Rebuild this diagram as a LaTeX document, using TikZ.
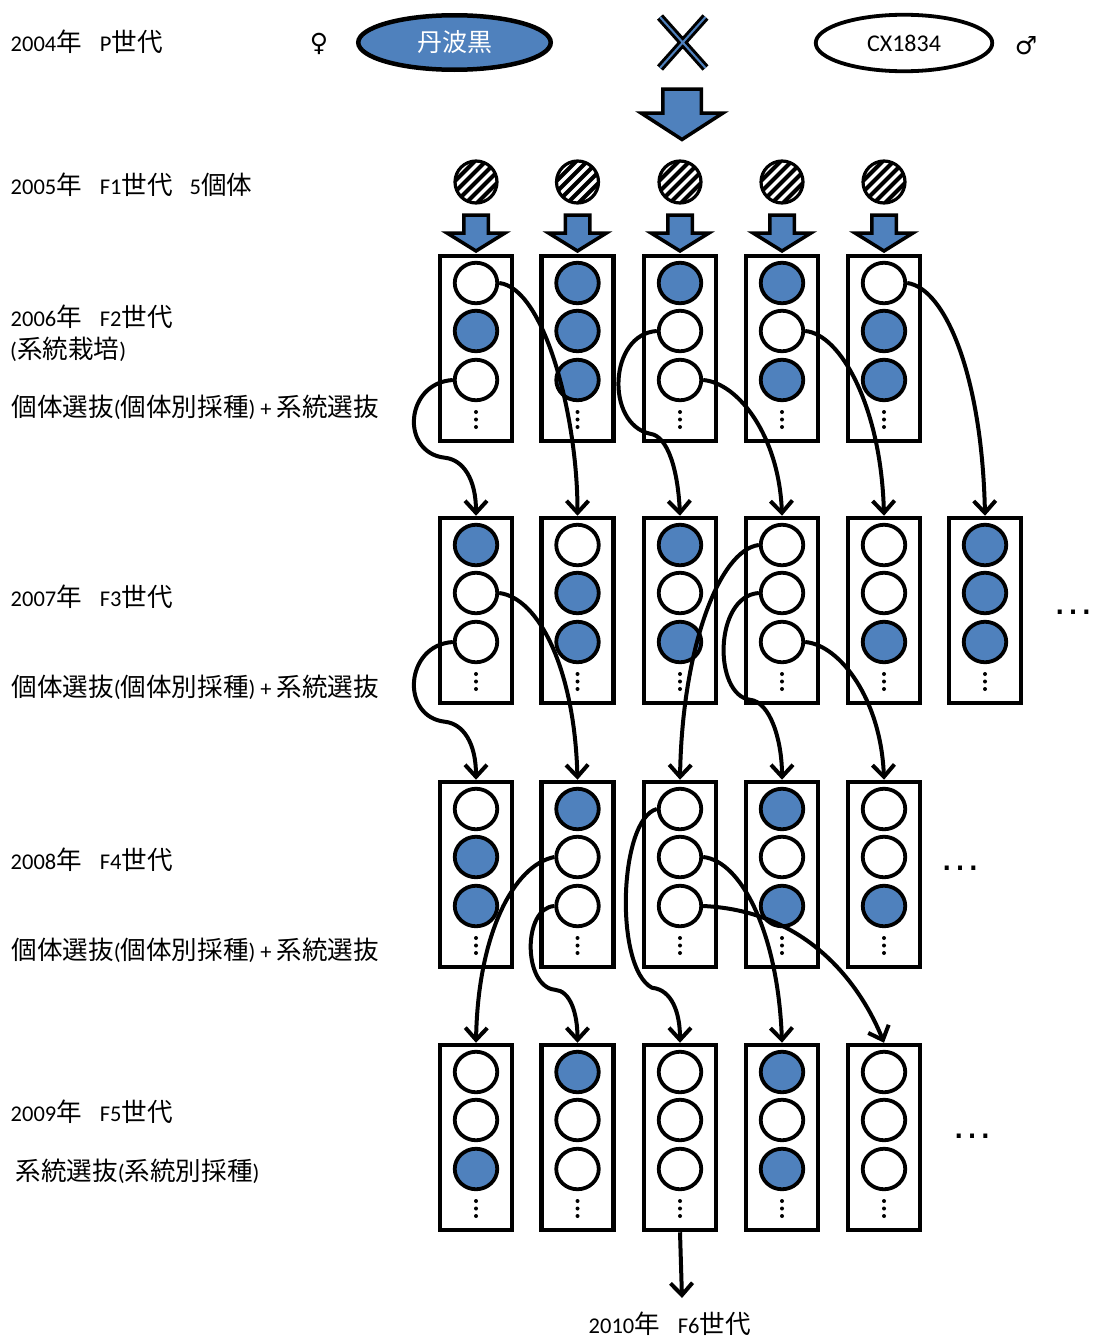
\documentclass[tikz,border=0pt]{standalone}
\usepackage{fontspec}
\setmainfont[Numbers=Lining]{Carlito}
\newfontfamily\jp[Scale=1.136]{Noto Sans CJK JP}
\newfontfamily\symf{DejaVu Sans}
\newfontfamily\arialf{Liberation Sans}
\usetikzlibrary{shapes.geometric,arrows.meta,calc}
\definecolor{pblue}{RGB}{79,129,189}
\begin{document}
\begin{tikzpicture}[x=1pt,y=-1pt,
  lbl/.style={anchor=base west, inner sep=0, font=\fontsize{22.5}{26}\selectfont},
  lbox/.style={draw, line width=4.5, minimum width=72, minimum height=185, inner sep=0, fill=white},
  cir/.style={ellipse, draw, line width=3.8, minimum width=42.5, minimum height=40.5, inner sep=0},
  conn/.style={line width=4, -{Straight Barb[length=12pt,width=22pt]}},
  blk/.style={fill=pblue, draw=black, line width=3.5, line join=miter},
  more/.style={font=\arialf\fontsize{42}{46}\selectfont, anchor=base, inner sep=0},
  hatch/.style={circle, draw, line width=3.2, minimum size=42, inner sep=0, fill=white,
    path picture={\foreach \k in {-55,-44,...,55}{\draw[line width=4] ($(path picture bounding box.center)+(\k-30,30)$) -- ++(60,-60);}}}
]
\useasboundingbox (0,0) rectangle (1096,1341);

% left labels
\node[lbl] (t2004) at (10.5,51.5) {2004{\jp 年}\hspace{18pt}P{\jp 世代}};
\node[lbl] (t2005) at (10.5,194.5) {2005{\jp 年}\hspace{18pt}F1{\jp 世代}\hspace{17pt}5{\jp 個体}};
\node[lbl] (t2006) at (10.5,326.5) {2006{\jp 年}\hspace{18pt}F2{\jp 世代}};
\node[lbl] (t2006b) at (10,358.5) {({\jp 系統栽培})};
\node[lbl] (s2) at (11.5,416.5) {{\jp 個体選抜}({\jp 個体別採種}) + {\jp 系統選抜}};
\node[lbl] (t2007) at (10.5,606.5) {2007{\jp 年}\hspace{18pt}F3{\jp 世代}};
\node[lbl] (s3) at (11.5,696.5) {{\jp 個体選抜}({\jp 個体別採種}) + {\jp 系統選抜}};
\node[lbl] (t2008) at (10.5,869.5) {2008{\jp 年}\hspace{18pt}F4{\jp 世代}};
\node[lbl] (s4) at (11.5,959.5) {{\jp 個体選抜}({\jp 個体別採種}) + {\jp 系統選抜}};
\node[lbl] (t2009) at (10.5,1121.5) {2009{\jp 年}\hspace{18pt}F5{\jp 世代}};
\node[lbl] (s5) at (15.5,1180.5) {{\jp 系統選抜}({\jp 系統別採種})};

% parents
\node[font=\symf\fontsize{25}{28}\selectfont, inner sep=0] (fem) at (319,44) {♀};
\node[ellipse, draw, line width=4.5, fill=pblue, minimum width=192.5, minimum height=54.5, inner sep=0, text=white, font=\jp\fontsize{22}{26}\selectfont] (tamba) at (454.5,42.5) {丹波黒};
\node[ellipse, draw, line width=3.8, fill=white, minimum width=176.5, minimum height=56.5, inner sep=0, font=\fontsize{24}{28}\selectfont] (cx) at (904,43) {CX1834};
\node[font=\symf\fontsize{25}{28}\selectfont, inner sep=0] (mal) at (1026,46) {♂};

% cross mark
\draw[line width=8] (660,17) -- (705.5,68) (705.5,17) -- (660,68);
\draw[pblue, line width=2] (660,17) -- (705.5,68) (705.5,17) -- (660,68);

% big block arrow
\draw[blk] (662.75,89) -- (701.25,89) -- (701.25,113) -- (723,113) -- (682,139.5) -- (641,113) -- (662.75,113) -- cycle;

% F1 individuals and small block arrows
\foreach \i/\x in {1/476,2/577.5,3/680,4/782,5/884}{
  \node[hatch] (h-\i) at (\x,182) {};
  \draw[blk] (\x-12.25,215) -- (\x+12.25,215) -- (\x+12.25,233) -- (\x+29,233) -- (\x,251) -- (\x-29,233) -- (\x-12.25,233) -- cycle;
}

% lines (boxes)
\foreach \g/\c/\x/\T/\fa/\fb/\fc in {
 2/1/476/254/white/pblue/white, 2/2/577.5/254/pblue/pblue/pblue, 2/3/680/254/pblue/white/white, 2/4/782/254/pblue/white/pblue, 2/5/884/254/white/pblue/pblue,
 3/1/476/516/pblue/white/white, 3/2/577.5/516/white/pblue/pblue, 3/3/680/516/pblue/white/pblue, 3/4/782/516/white/white/white, 3/5/884/516/white/white/pblue, 3/6/985/516/pblue/pblue/pblue,
 4/1/476/780/white/pblue/pblue, 4/2/577.5/780/pblue/white/white, 4/3/680/780/white/white/white, 4/4/782/780/pblue/white/pblue, 4/5/884/780/white/white/pblue,
 5/1/476/1043/white/white/pblue, 5/2/577.5/1043/pblue/white/white, 5/3/680/1043/white/white/white, 5/4/782/1043/pblue/white/pblue, 5/5/884/1043/white/white/white}{
  \node[lbox] (b-\g-\c) at (\x,\T+94.5) {};
  \node[cir, fill=\fa] (c-\g-\c-1) at (\x,\T+29) {};
  \node[cir, fill=\fb] (c-\g-\c-2) at (\x,\T+77) {};
  \node[cir, fill=\fc] (c-\g-\c-3) at (\x,\T+126) {};
  \fill (\x,\T+158) circle[radius=2pt] (\x,\T+165.5) circle[radius=2pt] (\x,\T+173) circle[radius=2pt];
}

% continuation marks
\node[more] (m3) at (1073,614.5) {…};
\node[more] (m4) at (960,870.5) {…};
\node[more] (m5) at (972,1138) {…};

% F2 -> F3
\draw[conn] (c-2-1-3.west) .. controls +(-48,3) and +(-45,-5) .. ($(b-3-1.north)+(-31,-58)$) .. controls +(18,2) and +(0,-37) .. (b-3-1.north);
\draw[conn] (c-2-1-1.east) .. controls +(45,5) and +(0,-100) .. (b-3-2.north);
\draw[conn] (c-2-3-2.west) .. controls +(-48,3) and +(-45,-10) .. ($(b-3-3.north)+(-30,-82)$) .. controls +(18,2) and +(-2,-45) .. (b-3-3.north);
\draw[conn] (c-2-3-3.east) .. controls +(35,3) and +(-3,-80) .. (b-3-4.north);
\draw[conn] (c-2-4-2.east) .. controls +(35,3) and +(-3,-110) .. (b-3-5.north);
\draw[conn] (c-2-5-1.east) .. controls +(38,5) and +(-3,-140) .. (b-3-6.north);

% F3 -> F4
\draw[conn] (c-3-1-3.west) .. controls +(-48,3) and +(-45,-5) .. ($(b-4-1.north)+(-31,-58)$) .. controls +(18,2) and +(0,-37) .. (b-4-1.north);
\draw[conn] (c-3-1-2.east) .. controls +(40,5) and +(-3,-110) .. (b-4-2.north);
\draw[conn] (c-3-4-1.west) .. controls +(-40,5) and +(2,-130) .. (b-4-3.north);
\draw[conn] (c-3-4-2.west) .. controls +(-45,3) and +(-37,-5) .. ($(b-4-4.north)+(-32,-80)$) .. controls +(20,2) and +(0,-40) .. (b-4-4.north);
\draw[conn] (c-3-4-3.east) .. controls +(35,3) and +(-3,-80) .. (b-4-5.north);

% F4 -> F5
\draw[conn] (c-4-2-2.west) .. controls +(-40,8) and +(2,-110) .. (b-5-1.north);
\draw[conn] (c-4-2-3.west) .. controls +(-32,2) and +(-32,-3) .. ($(b-5-2.north)+(-22.5,-53)$) .. controls +(15,1) and +(0,-30) .. (b-5-2.north);
\draw[conn] (c-4-3-1.west) .. controls +(-38,10) and +(-38,-20) .. ($(b-5-3.north)+(-28,-55)$) .. controls +(20,2) and +(0,-30) .. (b-5-3.north);
\draw[conn] (c-4-3-2.east) .. controls +(38,4) and +(-4,-110) .. (b-5-4.north);
\draw[conn] (c-4-3-3.east) .. controls +(110,5) and +(-20,-50) .. (b-5-5.north);

% F6
\coordinate (f6end) at (682,1298);
\draw[conn] (b-5-3.south) -- (f6end);
\node[lbl] (f6) at (588.5,1333.5) {2010{\jp 年}\hspace{18pt}F6{\jp 世代}};
\end{tikzpicture}
\end{document}
